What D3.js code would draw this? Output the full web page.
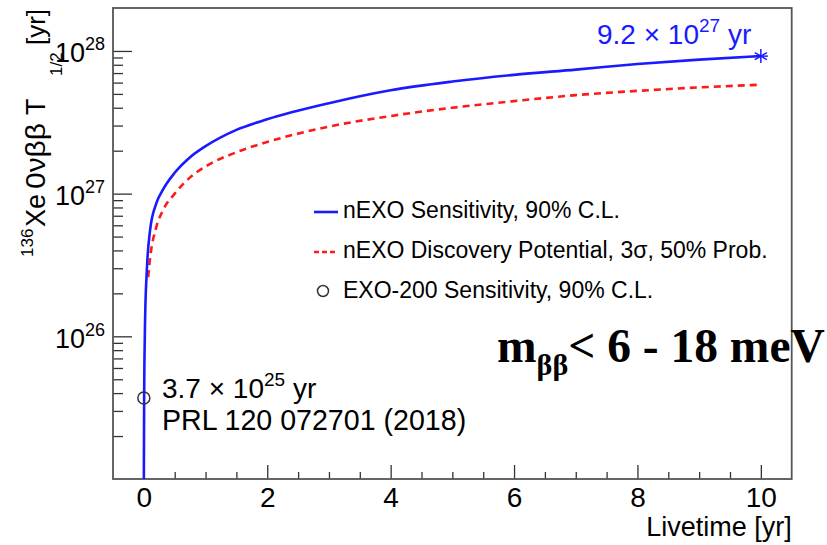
<!DOCTYPE html>
<html>
<head>
<meta charset="utf-8">
<script src="https://cdn.jsdelivr.net/npm/d3@7"></script>
<style>
  html, body { margin: 0; padding: 0; background: #fff; }
  svg { display: block; }
</style>
</head>
<body>
<svg id="chart" width="827" height="545" font-family="'Liberation Sans', Arial, Helvetica, sans-serif"></svg>
<script>
// Livetime grid (years) and half-life values (years)
const sensLivetime = [0, 0.005, 0.01, 0.02, 0.05, 0.1, 0.2, 0.3, 0.5, 0.75, 1, 1.5, 2, 3, 4, 5, 6, 7, 8, 9, 10];
const sensHalfLife = [1e25, 4e25, 7e25, 1.3e26, 3.0e26, 5.5e26, 8.5e26, 1.05e27, 1.4e27, 1.8e27, 2.15e27, 2.8e27, 3.32e27, 4.3e27, 5.3e27, 6.1e27, 6.8e27, 7.4e27, 8.1e27, 8.7e27, 9.2e27];

const discLivetime = [0.07, 0.1, 0.2, 0.3, 0.5, 0.75, 1, 1.5, 2, 3, 4, 5, 6, 7, 8, 9, 10];
const discHalfLife = [2.6e26, 3.5e26, 5.8e26, 7.5e26, 1.0e27, 1.3e27, 1.55e27, 1.95e27, 2.3e27, 2.95e27, 3.5e27, 4.0e27, 4.45e27, 4.9e27, 5.25e27, 5.55e27, 5.8e27];

const exo200Livetime = [0];
const exo200HalfLife = [3.7e25];

const finalLivetime = [10];
const finalHalfLife = [9.2e27];

const xMajorTicks = [0, 2, 4, 6, 8, 10];
const yDecades = [25, 26, 27, 28];

const legendLabels = [
  "nEXO Sensitivity, 90% C.L.",
  "nEXO Discovery Potential, 3\u03C3, 50% Prob.",
  "EXO-200 Sensitivity, 90% C.L."
];

const sansFont = "'Liberation Sans', Arial, Helvetica, sans-serif";
const serifFont = "'Liberation Serif', 'Times New Roman', serif";

const svg = d3.select("#chart");
const frame = { left: 113, right: 791.7, top: 8, bottom: 479 };

const x = d3.scaleLinear().domain([-0.5, 10.5]).range([frame.left, frame.right]);
const y = d3.scaleLog().domain([1e25, 2e28]).range([frame.bottom, frame.top]);

const blue = "#1a1aff";
const red = "#ff1a1a";
const axisColor = "#333";

// clip for curves
svg.append("defs").append("clipPath").attr("id", "plotClip")
  .append("rect")
  .attr("x", frame.left).attr("y", frame.top)
  .attr("width", frame.right - frame.left).attr("height", frame.bottom - frame.top);

// X axis: major ticks with labels, minor every 0.5
const xMinor = d3.range(0.5, 10.01, 0.5).filter(v => !xMajorTicks.includes(v));
const xAxisMajor = d3.axisBottom(x).tickValues(xMajorTicks).tickSize(-14).tickPadding(8).tickFormat(d3.format("d"));
const xAxisMinor = d3.axisBottom(x).tickValues(xMinor).tickSize(-7).tickFormat("");

const gxMinor = svg.append("g").attr("transform", `translate(0,${frame.bottom})`).call(xAxisMinor);
const gx = svg.append("g").attr("transform", `translate(0,${frame.bottom})`).call(xAxisMajor);
[gx, gxMinor].forEach(g => {
  g.select(".domain").remove();
  g.selectAll(".tick line").attr("stroke", axisColor).attr("stroke-width", 1.3);
});
gx.attr("font-family", sansFont);
gx.selectAll(".tick text")
  .attr("font-size", 28).attr("fill", "#000");

// Y axis: decades with 10^n labels, minor 2..9
const yMajor = yDecades.map(d => Math.pow(10, d)).filter(v => v > 1e25);
const yMinor = [];
yDecades.forEach(d => { for (let k = 2; k <= 9; k++) { const v = k * Math.pow(10, d); if (v < 2e28) yMinor.push(v); } });

const gyMinor = svg.append("g").attr("transform", `translate(${frame.left},0)`)
  .call(d3.axisLeft(y).tickValues(yMinor).tickSize(-10).tickFormat(""));
const gy = svg.append("g").attr("transform", `translate(${frame.left},0)`)
  .call(d3.axisLeft(y).tickValues(yMajor).tickSize(-19).tickFormat(""));
[gy, gyMinor].forEach(g => {
  g.select(".domain").remove();
  g.selectAll(".tick line").attr("stroke", axisColor).attr("stroke-width", 1.3);
});
gy.attr("font-family", sansFont);
gy.selectAll(".tick").each(function(d) {
  const t = d3.select(this).append("text")
    .attr("x", -8).attr("y", 11)
    .attr("text-anchor", "end")
    .attr("fill", "#000")
    .attr("font-size", 27);
  t.append("tspan").text("10");
  t.append("tspan").attr("font-size", 18).attr("dy", -12).text(Math.round(Math.log10(d)));
});

// Frame
svg.append("rect")
  .attr("x", frame.left).attr("y", frame.top)
  .attr("width", frame.right - frame.left).attr("height", frame.bottom - frame.top)
  .attr("fill", "none").attr("stroke", "#555").attr("stroke-width", 1.8);

// Curves
const line = d3.line().x(d => x(d[0])).y(d => y(d[1])).curve(d3.curveMonotoneX);
const plot = svg.append("g").attr("clip-path", "url(#plotClip)");

plot.append("path")
  .datum(discLivetime.map((t, i) => [t, discHalfLife[i]]))
  .attr("d", line)
  .attr("fill", "none").attr("stroke", red).attr("stroke-width", 2.6)
  .attr("stroke-dasharray", "7,5");

plot.append("path")
  .datum(sensLivetime.map((t, i) => [t, sensHalfLife[i]]))
  .attr("d", line)
  .attr("fill", "none").attr("stroke", blue).attr("stroke-width", 2.6);

// EXO-200 marker
svg.selectAll("circle.exo")
  .data(exo200Livetime.map((t, i) => [t, exo200HalfLife[i]]))
  .join("circle").attr("class", "exo")
  .attr("cx", d => x(d[0])).attr("cy", d => y(d[1]))
  .attr("r", 6).attr("fill", "none").attr("stroke", "#333").attr("stroke-width", 1.5);

// Final sensitivity asterisk marker
const star = svg.selectAll("g.star")
  .data(finalLivetime.map((t, i) => [t, finalHalfLife[i]]))
  .join("g").attr("class", "star")
  .attr("transform", d => `translate(${x(d[0])},${y(d[1])})`);
[0, 60, 120].forEach(a => {
  star.append("line")
    .attr("x1", 0).attr("y1", -7).attr("x2", 0).attr("y2", 7)
    .attr("transform", `rotate(${a})`)
    .attr("stroke", blue).attr("stroke-width", 1.5);
});
star.append("line").attr("x1", -7).attr("y1", 0).attr("x2", 7).attr("y2", 0)
  .attr("stroke", blue).attr("stroke-width", 1.5);

// Value annotations
function sciLabel(g, xPos, yPos, mant, exp, color) {
  const t = g.append("text").attr("x", xPos).attr("y", yPos)
    .attr("font-size", 28).attr("fill", color);
  t.append("tspan").text(mant + " \u00D7 10");
  t.append("tspan").attr("font-size", 19).attr("dy", -12).text(exp);
  t.append("tspan").attr("dy", 12).text(" yr");
  return t;
}
sciLabel(svg, 597, 44, "9.2", "27", blue);
sciLabel(svg, 162, 398, "3.7", "25", "#000");
svg.append("text").attr("x", 162).attr("y", 430)
  .attr("font-size", 28.6).attr("fill", "#000")
  .text("PRL 120 072701 (2018)");

// Legend
const legend = svg.append("g");
const legendRows = [218, 258, 298];
legend.append("line").attr("x1", 314).attr("x2", 338).attr("y1", legendRows[0] - 6).attr("y2", legendRows[0] - 6)
  .attr("stroke", blue).attr("stroke-width", 2.6);
legend.append("line").attr("x1", 314).attr("x2", 338).attr("y1", legendRows[1] - 6).attr("y2", legendRows[1] - 6)
  .attr("stroke", red).attr("stroke-width", 2.6).attr("stroke-dasharray", "5,3");
legend.append("circle").attr("cx", 323).attr("cy", legendRows[2] - 7).attr("r", 5.5)
  .attr("fill", "none").attr("stroke", "#333").attr("stroke-width", 1.5);
legend.selectAll("text.leg").data(legendLabels).join("text").attr("class", "leg")
  .attr("x", 343).attr("y", (d, i) => legendRows[i])
  .attr("font-size", 23).attr("fill", "#000")
  .text(d => d);

// Axis titles
svg.append("text")
  .attr("x", frame.right).attr("y", 536)
  .attr("text-anchor", "end").attr("font-size", 27).attr("fill", "#000")
  .text("Livetime [yr]");

// Rotated y title, built from pieces laid along the axis (rotated frame: x = -screenY)
const yTitle = svg.append("g").attr("transform", "rotate(-90)").attr("fill", "#000");
const titlePieces = [
  { text: "136",        start: 257, base: 33, size: 17 },
  { text: "Xe",         start: 227, base: 45, size: 27 },
  { text: "0\u03BD\u03B2\u03B2", start: 189, base: 45, size: 27, len: 66 },
  { text: "T",          start: 115, base: 45, size: 27 },
  { text: "1/2",        start: 76,  base: 62, size: 17 },
  { text: "[yr]",       start: 45,  base: 45, size: 26, len: 36 }
];
titlePieces.forEach(p => {
  const t = yTitle.append("text")
    .attr("x", -p.start).attr("y", p.base)
    .attr("font-size", p.size)
    .text(p.text);
  if (p.len) t.attr("textLength", p.len).attr("lengthAdjust", "spacingAndGlyphs");
});

// Mass range statement
const mText = svg.append("text")
  .attr("x", 497).attr("y", 362)
  .attr("font-family", serifFont)
  .attr("font-weight", "bold").attr("font-size", 47.5).attr("fill", "#000");
mText.append("tspan").text("m");
mText.append("tspan").attr("font-size", 30).attr("dy", 13).text("\u03B2\u03B2");
mText.append("tspan").attr("dy", -13).text("< 6 - 18 meV");
</script>
</body>
</html>
